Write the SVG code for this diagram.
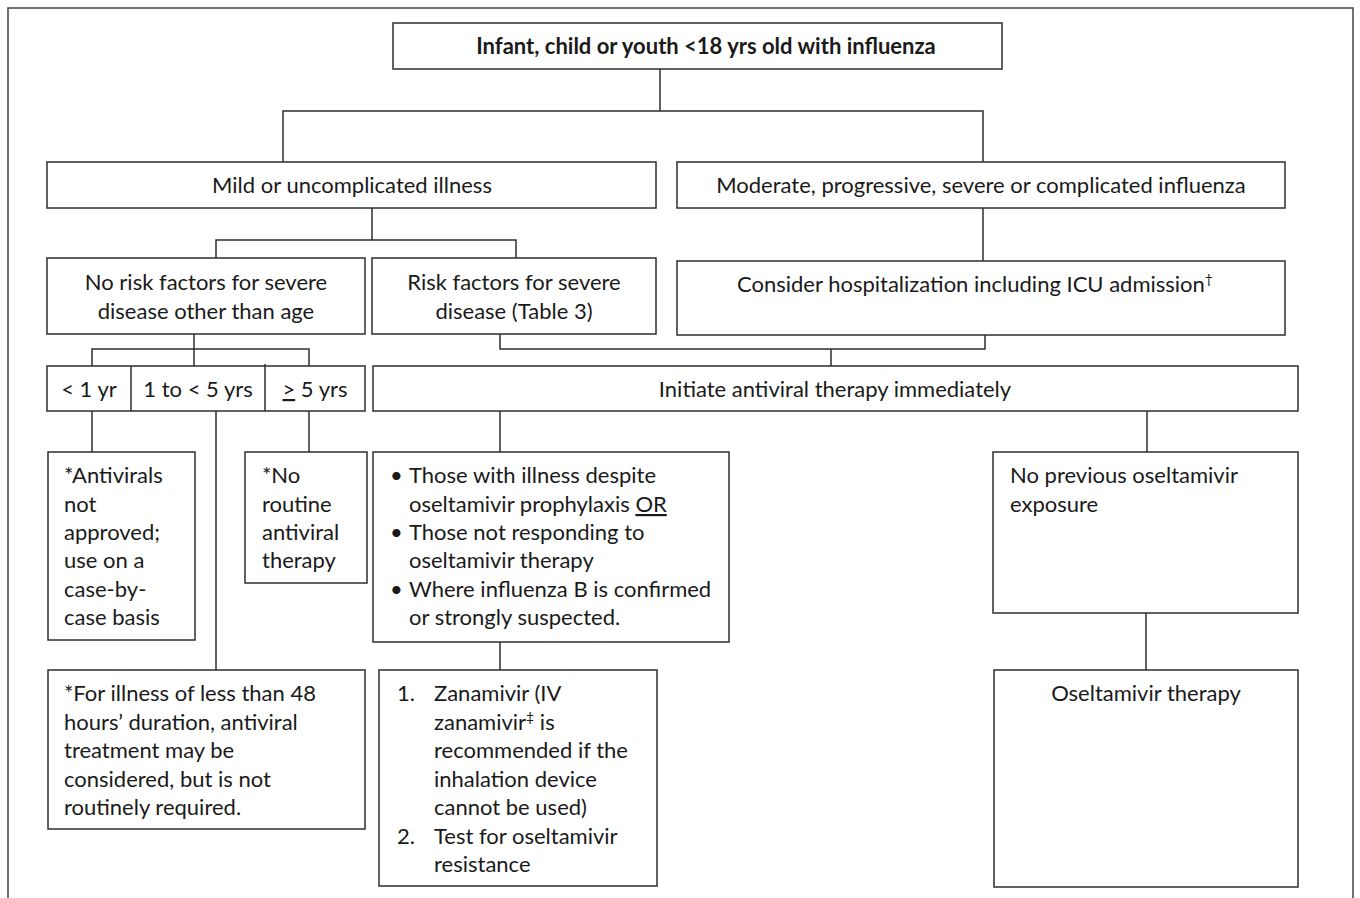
<svg xmlns="http://www.w3.org/2000/svg" width="1360" height="898" viewBox="0 0 1360 898">
<style>
.box{fill:#fff;stroke:#2e2e2e;stroke-width:1.5}
.conn{fill:none;stroke:#2e2e2e;stroke-width:1.5}
.t{font-family:Lato,"Liberation Sans",sans-serif;font-size:22px;fill:#1a1a1a}
.c{text-anchor:middle}
.b{font-weight:bold}
</style>
<rect width="1360" height="898" fill="#fff"/>
<path d="M8,898 V8 H1353 V898" fill="none" stroke="#444" stroke-width="1.5"/>
<g id="connectors">
<path class="conn" d="M660,69 V111"/>
<path class="conn" d="M283,162 V111 H983 V162"/>
<path class="conn" d="M372,208 V240"/>
<path class="conn" d="M216,258 V240 H516 V258"/>
<path class="conn" d="M983,208 V261"/>
<path class="conn" d="M194,334 V366"/>
<path class="conn" d="M92,366 V349 H309 V366"/>
<path class="conn" d="M500,334 V349 H985 V335"/>
<path class="conn" d="M831,349 V366"/>
<path class="conn" d="M92,411 V452"/>
<path class="conn" d="M216,411 V670"/>
<path class="conn" d="M309,411 V452"/>
<path class="conn" d="M500,411 V452"/>
<path class="conn" d="M1147,411 V452"/>
<path class="conn" d="M500,642 V670"/>
<path class="conn" d="M1146,613 V670"/>
</g>
<g id="n-top">
<rect class="box" x="393" y="23" width="609" height="46"/>
<text class="t c b" x="706" y="54">Infant, child or youth &lt;18 yrs old with influenza</text>
</g>
<g id="n-mild">
<rect class="box" x="47" y="162" width="609" height="46"/>
<text class="t c" x="352" y="193">Mild or uncomplicated illness</text>
</g>
<g id="n-moderate">
<rect class="box" x="677" y="162" width="608" height="46"/>
<text class="t c" x="981" y="193">Moderate, progressive, severe or complicated influenza</text>
</g>
<g id="n-norisk">
<rect class="box" x="47" y="258" width="318" height="76"/>
<text class="t c" x="206" y="290">No risk factors for severe</text>
<text class="t c" x="206" y="319">disease other than age</text>
</g>
<g id="n-risk">
<rect class="box" x="372" y="258" width="284" height="76"/>
<text class="t c" x="514" y="290">Risk factors for severe</text>
<text class="t c" x="514" y="319">disease (Table 3)</text>
</g>
<g id="n-consider">
<rect class="box" x="677" y="261" width="608" height="74"/>
<text class="t c" x="975" y="292">Consider hospitalization including ICU admission<tspan font-size="14" dy="-8">†</tspan></text>
</g>
<g id="n-age">
<rect class="box" x="47" y="366" width="318" height="45"/>
<path class="conn" d="M131,366 V411 M265,364 V411"/>
<text class="t c" x="89" y="397">&lt; 1 yr</text>
<text class="t c" x="198" y="397">1 to &lt; 5 yrs</text>
<text class="t c" x="315" y="397"><tspan text-decoration="underline">&gt;</tspan> 5 yrs</text>
</g>
<g id="n-initiate">
<rect class="box" x="373" y="366" width="925" height="45"/>
<text class="t c" x="835" y="397">Initiate antiviral therapy immediately</text>
</g>
<g id="n-lt1">
<rect class="box" x="48" y="452" width="147" height="188"/>
<text class="t" x="64" y="483">*Antivirals</text>
<text class="t" x="64" y="512">not</text>
<text class="t" x="64" y="540">approved;</text>
<text class="t" x="64" y="568">use on a</text>
<text class="t" x="64" y="597">case-by-</text>
<text class="t" x="64" y="625">case basis</text>
</g>
<g id="n-ge5">
<rect class="box" x="245" y="452" width="122" height="131"/>
<text class="t" x="262" y="483">*No</text>
<text class="t" x="262" y="512">routine</text>
<text class="t" x="262" y="540">antiviral</text>
<text class="t" x="262" y="568">therapy</text>
</g>
<g id="n-1to5">
<rect class="box" x="48" y="670" width="317" height="159"/>
<text class="t" x="64" y="701">*For illness of less than 48</text>
<text class="t" x="64" y="730">hours’ duration, antiviral</text>
<text class="t" x="64" y="758">treatment may be</text>
<text class="t" x="64" y="787">considered, but is not</text>
<text class="t" x="64" y="815">routinely required.</text>
</g>
<g id="n-bullets">
<rect class="box" x="373" y="452" width="356" height="190"/>
<text class="t" x="390" y="483">•</text>
<text class="t" x="409" y="483">Those with illness despite</text>
<text class="t" x="409" y="512">oseltamivir prophylaxis <tspan text-decoration="underline">OR</tspan></text>
<text class="t" x="390" y="540">•</text>
<text class="t" x="409" y="540">Those not responding to</text>
<text class="t" x="409" y="568">oseltamivir therapy</text>
<text class="t" x="390" y="597">•</text>
<text class="t" x="409" y="597">Where influenza B is confirmed</text>
<text class="t" x="409" y="625">or strongly suspected.</text>
</g>
<g id="n-zanamivir">
<rect class="box" x="379" y="670" width="278" height="216"/>
<text class="t" x="397" y="701">1.</text>
<text class="t" x="434" y="701">Zanamivir (IV</text>
<text class="t" x="434" y="730">zanamivir<tspan font-size="14" dy="-8">‡</tspan><tspan dy="8"> is</tspan></text>
<text class="t" x="434" y="758">recommended if the</text>
<text class="t" x="434" y="787">inhalation device</text>
<text class="t" x="434" y="815">cannot be used)</text>
<text class="t" x="397" y="844">2.</text>
<text class="t" x="434" y="844">Test for oseltamivir</text>
<text class="t" x="434" y="872">resistance</text>
</g>
<g id="n-noprev">
<rect class="box" x="993" y="452" width="305" height="161"/>
<text class="t" x="1010" y="483">No previous oseltamivir</text>
<text class="t" x="1010" y="512">exposure</text>
</g>
<g id="n-oselt">
<rect class="box" x="994" y="670" width="304" height="217"/>
<text class="t c" x="1146" y="701">Oseltamivir therapy</text>
</g>
</svg>
